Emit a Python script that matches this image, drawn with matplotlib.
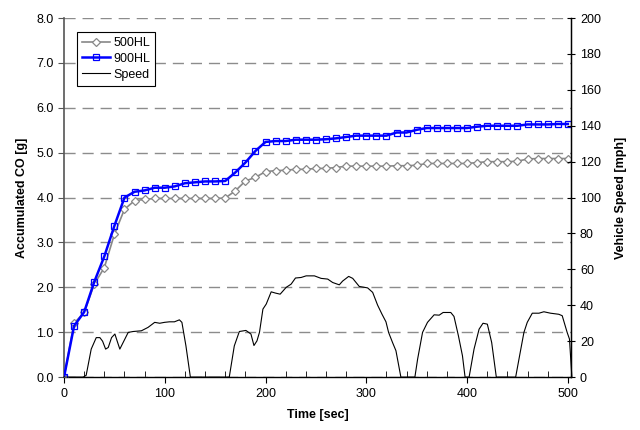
import matplotlib
matplotlib.use("Agg")
import matplotlib.pyplot as plt
from matplotlib.ticker import MultipleLocator, FormatStrFormatter

OUTPUT_IMAGE = "out.png"

# accumulated CO, sampled every 10 s
time_co = [0, 10, 20, 30, 40, 50, 60, 70, 80, 90,
           100, 110, 120, 130, 140, 150, 160, 170, 180, 190,
           200, 210, 220, 230, 240, 250, 260, 270, 280, 290,
           300, 310, 320, 330, 340, 350, 360, 370, 380, 390,
           400, 410, 420, 430, 440, 450, 460, 470, 480, 490, 500]
co_500hl = [0.0, 1.20, 1.44, 2.07, 2.44, 3.18, 3.74, 3.93, 3.96, 3.98,
            3.98, 3.98, 3.98, 3.98, 3.98, 3.98, 3.99, 4.15, 4.37, 4.45,
            4.58, 4.60, 4.61, 4.63, 4.63, 4.65, 4.65, 4.67, 4.70, 4.70,
            4.70, 4.70, 4.70, 4.71, 4.71, 4.72, 4.76, 4.76, 4.76, 4.76,
            4.76, 4.78, 4.80, 4.80, 4.80, 4.81, 4.86, 4.87, 4.87, 4.87, 4.87]
co_900hl = [0.0, 1.14, 1.45, 2.12, 2.69, 3.37, 4.00, 4.13, 4.16, 4.22,
            4.22, 4.25, 4.32, 4.34, 4.36, 4.36, 4.37, 4.56, 4.78, 5.04,
            5.24, 5.26, 5.26, 5.29, 5.29, 5.29, 5.30, 5.32, 5.35, 5.38,
            5.38, 5.38, 5.38, 5.45, 5.45, 5.51, 5.55, 5.55, 5.55, 5.55,
            5.55, 5.58, 5.60, 5.60, 5.60, 5.60, 5.63, 5.63, 5.63, 5.64, 5.64]

# vehicle speed trace
time_speed = [0, 19, 22, 27, 32, 35.6, 38.3, 41.3, 43.9, 47.2, 50.5, 52.8, 55.4, 58.7,
              63.7, 68.6, 76.8, 83.4, 90, 95, 99.7, 104.6, 109.6, 114.5, 117, 121, 125.4,
              164, 169, 174, 180.5, 185.5, 188.5, 191.5, 194, 197.4, 200.7, 205.6, 209.9,
              214.5, 220.5, 225.4, 229.7, 235.3, 240.3, 248.5, 255.1, 261.7, 266.6, 273.2,
              276.5, 282.5, 286.5, 293, 301.3, 306.3, 311.2, 315.5, 319.5, 322.1, 326,
              329.4, 334.3, 348.2, 350.9, 355.8, 360.7, 367.3, 372.3, 376.2, 383.8, 387,
              391.4, 395.4, 398, 402, 406.9, 411.9, 415.8, 420.1, 424.4, 429, 448.2, 452.1,
              456.4, 459.7, 464.7, 471.3, 476.2, 482.8, 491, 494.4, 499.3, 501.6, 504]
speed_mph = [0, 0, 1, 15.6, 22, 22, 20, 15.6, 16.5, 22, 24, 20, 15.6, 19.3,
             24.9, 25.4, 25.8, 27.7, 30.5, 30, 30.5, 30.8, 30.8, 31.9, 30.5, 17.4, 0,
             0, 17.4, 25.4, 26, 24, 17.6, 20.2, 25, 37.9, 40.7, 47.5, 46.8,
             46.2, 50, 51.8, 55.2, 55.5, 56.4, 56.4, 55, 54.6, 52.7, 51.4,
             53.5, 56.1, 55, 50.5, 49.7, 47.2, 40.1, 35.1, 30.8, 24.9, 19.3,
             14.7, 0, 0, 10, 24.9, 30.5, 34.7, 34.5, 36, 36, 33.8,
             23, 11.9, 0, 0, 15.6, 26.7, 30, 29.5, 19.3, 0, 0, 11.9,
             24.9, 30.5, 35.6, 35.6, 36.4, 35.6, 35, 34.2, 24.9, 21.2, 0]


def main():
    plt.rcParams['font.family'] = ['Liberation Sans', 'DejaVu Sans']

    fig = plt.figure(figsize=(6.4, 4.3), dpi=100)
    ax = fig.add_axes([0.1, 0.123, 0.792, 0.835])
    ax2 = ax.twinx()

    # CO curves
    ax.plot(time_co, co_500hl, color='#888888', linewidth=1.2, marker='D',
            markersize=3.8, markerfacecolor='white', markeredgecolor='#888888',
            markeredgewidth=0.9, label='500HL', zorder=3)
    ax.plot(time_co, co_900hl, color='#0000ff', linewidth=1.8, marker='s',
            markersize=4.5, markerfacecolor='none', markeredgecolor='#0000ff',
            markeredgewidth=0.9, label='900HL', zorder=4)

    # speed
    ax2.plot(time_speed, speed_mph, color='black', linewidth=0.8, label='Speed',
             clip_on=False)

    ax.set_xlim(0, 503)
    ax.set_ylim(0, 8)
    ax2.set_ylim(0, 200)

    ax.yaxis.set_major_locator(MultipleLocator(1))
    ax.yaxis.set_major_formatter(FormatStrFormatter('%.1f'))
    ax.xaxis.set_major_locator(MultipleLocator(100))
    ax.xaxis.set_minor_locator(MultipleLocator(20))
    ax2.yaxis.set_major_locator(MultipleLocator(20))

    ax.grid(axis='y', color='#8c8c8c', linestyle=(0, (8, 5)), linewidth=1.0)
    ax.set_axisbelow(True)

    for a in (ax, ax2):
        a.spines['top'].set_visible(False)
    ax.spines['left'].set_color('#555555')
    ax.spines['left'].set_linewidth(1.2)
    ax.spines['bottom'].set_linewidth(1.0)
    ax2.spines['right'].set_linewidth(1.0)
    ax2.spines['left'].set_visible(False)
    ax2.spines['bottom'].set_visible(False)

    ax.tick_params(axis='x', which='major', direction='out', length=4, labelsize=9, pad=4)
    ax.tick_params(axis='x', which='minor', direction='in', length=4)
    ax.tick_params(axis='y', direction='out', length=4, color='#555555', labelsize=9)
    ax2.tick_params(axis='y', direction='inout', length=6, labelsize=9)

    ax.set_xlabel('Time [sec]', fontsize=9, fontweight='bold', labelpad=6)
    ax.set_ylabel('Accumulated CO [g]', fontsize=9, fontweight='bold', labelpad=6)
    ax2.set_ylabel('Vehicle Speed [mph]', fontsize=9, fontweight='bold', labelpad=10)

    h1, l1 = ax.get_legend_handles_labels()
    h2, l2 = ax2.get_legend_handles_labels()
    leg = ax2.legend(h1 + h2, l1 + l2, loc='upper left', bbox_to_anchor=(0.026, 0.961),
                     fontsize=9, frameon=True, fancybox=False, edgecolor='black',
                     framealpha=1, borderpad=0.4, labelspacing=0.3, handlelength=2.2,
                     handletextpad=0.3, borderaxespad=0)
    leg.get_frame().set_linewidth(0.8)

    fig.savefig(OUTPUT_IMAGE, dpi=100, facecolor='white')


if __name__ == "__main__":
    main()
